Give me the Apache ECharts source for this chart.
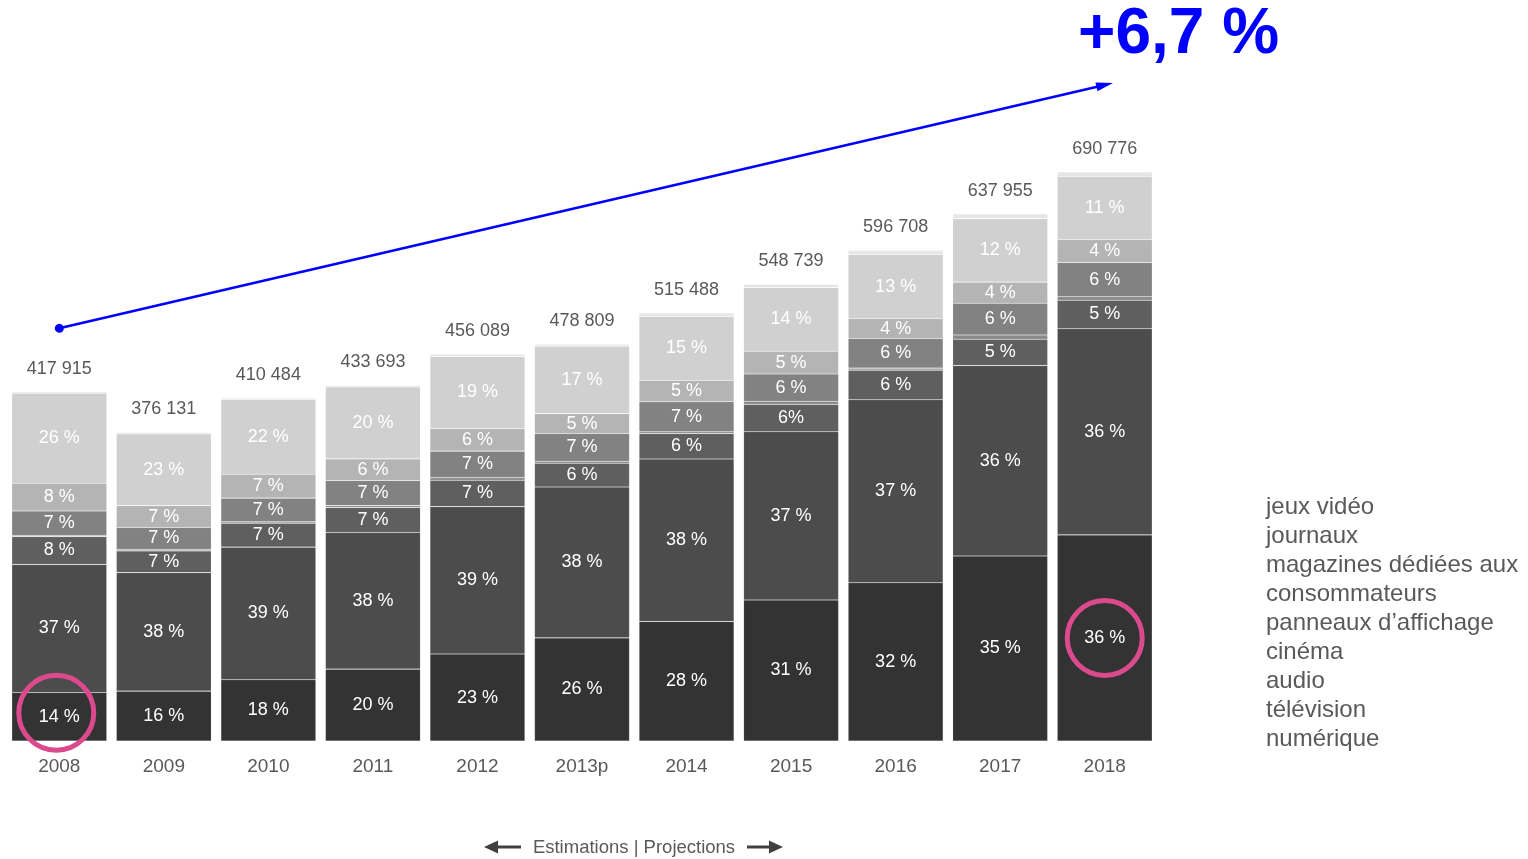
<!DOCTYPE html>
<html lang="fr">
<head>
<meta charset="utf-8">
<title>Dépenses médias 2008–2018</title>
<script src="https://cdn.jsdelivr.net/npm/echarts@6/dist/echarts.min.js"></script>
<style>
  html, body { margin: 0; padding: 0; background: #ffffff; }
  #chart { width: 1528px; height: 859px; }
</style>
</head>
<body>
<div id="chart"></div>
<script>
// Years and total spend per year
const years = ['2008', '2009', '2010', '2011', '2012', '2013p', '2014', '2015', '2016', '2017', '2018'];
const totals = [417915, 376131, 410484, 433693, 456089, 478809, 515488, 548739, 596708, 637955, 690776];

// Share of each medium in the yearly total (%), bottom of the stack first
const numerique  = [14, 16, 18, 20, 23, 26, 28, 31, 32, 35, 36];
const television = [37, 38, 39, 38, 39, 38, 38, 37, 37, 36, 36];
const audio      = [8, 7, 7, 7, 7, 6, 6, 6, 6, 5, 5];
const cinema     = [0.4, 0.5, 0.4, 0.5, 0.7, 0.5, 0.4, 0.7, 0.4, 0.8, 0.6];
const panneaux   = [7, 7, 7, 7, 7, 7, 7, 6, 6, 6, 6];
const magazines  = [8, 7, 7, 6, 6, 5, 5, 5, 4, 4, 4];
const journaux   = [26, 23, 22, 20, 19, 17, 15, 14, 13, 12, 11];
const jeuxVideo  = [0.4, 0.5, 0.4, 0.4, 0.6, 0.5, 0.8, 0.7, 0.8, 0.9, 0.8];

// Labels written without the space before "%"
const tightLabels = [['audio', '2015']];

// Growth annotation: start and end levels of the trend arrow
const growthText = '+6,7 %';
const trendStart = 498000;
const trendEnd = 791500;

const fontMain = '"Liberation Sans", Arial, Helvetica, sans-serif';
const textGrey = '#595959';

const segments = [
  { name: 'numérique', pct: numerique, color: '#333333', labelled: true },
  { name: 'télévision', pct: television, color: '#4c4c4c', labelled: true },
  { name: 'audio', pct: audio, color: '#5f5f5f', labelled: true },
  { name: 'cinéma', pct: cinema, color: '#8a8a8a', labelled: false },
  { name: 'panneaux d’affichage', pct: panneaux, color: '#828282', labelled: true },
  { name: 'magazines dédiées aux consommateurs', pct: magazines, color: '#b4b4b4', labelled: true },
  { name: 'journaux', pct: journaux, color: '#d0d0d0', labelled: true },
  { name: 'jeux vidéo', pct: jeuxVideo, color: '#e6e6e6', labelled: false }
];

function formatThousands(n) {
  return String(n).replace(/\B(?=(\d{3})+(?!\d))/g, ' ');
}

function isTight(name, idx) {
  return tightLabels.some(function (t) { return t[0] === name && t[1] === years[idx]; });
}

const series = segments.map(function (seg, si) {
  const values = seg.pct.map(function (p, i) { return totals[i] * p / 100; });
  const s = {
    name: seg.name,
    type: 'bar',
    stack: 'total',
    barWidth: 95,
    data: values,
    itemStyle: {
      color: seg.color,
      borderColor: 'rgba(255,255,255,0.18)',
      borderWidth: 0.6
    },
    emphasis: { disabled: true },
    label: { show: false }
  };
  if (seg.labelled) {
    s.label = {
      show: true,
      position: 'inside',
      color: '#ffffff',
      fontFamily: fontMain,
      fontSize: 18,
      formatter: function (p) {
        const v = seg.pct[p.dataIndex];
        return isTight(seg.name, p.dataIndex) ? v + '%' : v + ' %';
      }
    };
  }
  if (si === segments.length - 1) {
    // yearly total above each stack
    s.label = {
      show: true,
      position: 'top',
      distance: 14,
      color: textGrey,
      fontFamily: fontMain,
      fontSize: 18,
      formatter: function (p) { return formatThousands(totals[p.dataIndex]); }
    };
    // trend arrow from 2008 to 2018
    s.markLine = {
      silent: true,
      symbol: ['circle', 'triangle'],
      symbolSize: [9, 17],
      lineStyle: { color: '#0000ff', width: 2.5, type: 'solid' },
      label: { show: false },
      data: [[
        { coord: [years[0], trendStart] },
        { coord: [years[years.length - 1], trendEnd] }
      ]]
    };
  }
  if (si === 0) {
    // highlight digital share in first and last year
    const first = 0, last = years.length - 1;
    s.markPoint = {
      silent: true,
      symbol: 'circle',
      symbolSize: 75,
      itemStyle: { color: 'rgba(0,0,0,0)', borderColor: '#dc4a8e', borderWidth: 5 },
      label: { show: false },
      data: [
        { coord: [years[first], values[first] / 2], symbolOffset: [-3, -4] },
        { coord: [years[last], values[last] / 2] }
      ]
    };
  }
  return s;
});

const chart = echarts.init(document.getElementById('chart'), null, { renderer: 'canvas' });

chart.setOption({
  backgroundColor: '#ffffff',
  animation: false,
  textStyle: { fontFamily: fontMain },
  grid: { left: 7, right: 371, top: 78, bottom: 118, containLabel: false },
  xAxis: {
    type: 'category',
    data: years,
    axisLine: { show: false },
    axisTick: { show: false },
    axisLabel: { color: textGrey, fontFamily: fontMain, fontSize: 19, margin: 16 }
  },
  yAxis: {
    type: 'value',
    min: 0,
    max: 800000,
    show: false,
    splitLine: { show: false }
  },
  legend: {
    orient: 'vertical',
    left: 1255,
    top: 488,
    itemGap: 0,
    itemWidth: 0,
    itemHeight: 0,
    icon: 'rect',
    selectedMode: false,
    data: segments.map(function (s) { return s.name; }).reverse(),
    formatter: function (name) {
      return name.replace('magazines dédiées aux ', 'magazines dédiées aux\n');
    },
    textStyle: { color: textGrey, fontFamily: fontMain, fontSize: 24, lineHeight: 29 }
  },
  graphic: [
    {
      type: 'text',
      x: 1078,
      y: 35,
      style: {
        text: growthText,
        fill: '#0000ff',
        font: 'bold 64px ' + fontMain,
        textAlign: 'left',
        textVerticalAlign: 'middle'
      },
      silent: true
    },
    {
      type: 'text',
      x: 634,
      y: 848,
      style: {
        text: 'Estimations | Projections',
        fill: textGrey,
        font: '18.5px ' + fontMain,
        textAlign: 'center',
        textVerticalAlign: 'middle'
      },
      silent: true
    },
    {
      type: 'line',
      shape: { x1: 495, y1: 847, x2: 521, y2: 847 },
      style: { stroke: '#404040', lineWidth: 3 },
      silent: true
    },
    {
      type: 'polygon',
      shape: { points: [[484, 847], [498, 840.5], [498, 853.5]] },
      style: { fill: '#404040' },
      silent: true
    },
    {
      type: 'line',
      shape: { x1: 747, y1: 847, x2: 771, y2: 847 },
      style: { stroke: '#404040', lineWidth: 3 },
      silent: true
    },
    {
      type: 'polygon',
      shape: { points: [[783, 847], [769, 840.5], [769, 853.5]] },
      style: { fill: '#404040' },
      silent: true
    }
  ],
  series: series
});
</script>
</body>
</html>
